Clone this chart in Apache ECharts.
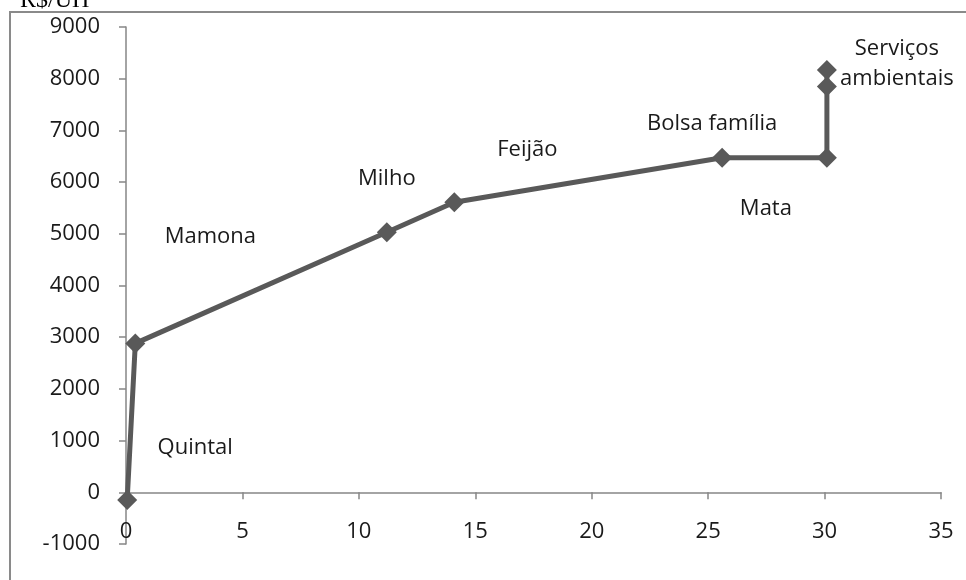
<!DOCTYPE html>
<html>
<head>
<meta charset="utf-8">
<script src="https://cdn.jsdelivr.net/npm/echarts@6/dist/echarts.min.js"></script>
<style>html,body{margin:0;padding:0;background:#fff}#c{width:966px;height:580px}</style>
</head>
<body>
<div id="c"></div>
<script>
// Data
var xValues = [0.05, 0.4, 11.2, 14.1, 25.6, 30.1, 30.1, 30.1];
var yValues = [-150, 2880, 5030, 5610, 6470, 6470, 7850, 8170];
var pointLabels = ['Quintal', 'Mamona', 'Milho', 'Feijão', 'Bolsa família', 'Mata', '', 'Serviços\nambientais'];
var xTicks = [0, 5, 10, 15, 20, 25, 30, 35];
var yTicks = [-1000, 0, 1000, 2000, 3000, 4000, 5000, 6000, 7000, 8000, 9000];
var yTitle = 'R$/UH';

// label placement (pixel offsets from each point)
var labelOffsets = [[68, -52], [75, -107], [0, -54], [73, -53], [-10, -34], [-61, 51], [0, 0], [70, -6]];

var FONT = '"Open Sans", "Noto Sans", sans-serif';
var data = xValues.map(function (x, i) {
  return {
    value: [x, yValues[i]],
    label: {
      show: pointLabels[i] !== '',
      formatter: pointLabels[i],
      position: 'inside',
      offset: labelOffsets[i],
      align: 'center',
      verticalAlign: 'middle',
      color: '#1a1a1a',
      fontSize: 22,
      lineHeight: 30,
      fontFamily: FONT
    }
  };
});

var chart = echarts.init(document.getElementById('c'), null, {renderer: 'canvas'});
chart.setOption({
  animation: false,
  backgroundColor: '#fff',
  graphic: [
    {type: 'rect', shape: {x: 10, y: 12, width: 980, height: 600}, style: {fill: 'none', stroke: '#8a8a8a', lineWidth: 2}, z: -1},
    {type: 'text', left: 20, top: -11, style: {text: yTitle, font: '24px "Liberation Serif", "DejaVu Serif", serif', fill: '#000'}}
  ],
  grid: {left: 126, right: 25, top: 27, bottom: 36, containLabel: false},
  xAxis: {
    type: 'value', min: xTicks[0], max: xTicks[xTicks.length - 1], interval: 5,
    axisLine: {show: true, onZero: true, lineStyle: {color: '#868686', width: 1.5}},
    axisTick: {show: true, length: 7, lineStyle: {color: '#868686', width: 1.5}},
    axisLabel: {color: '#1a1a1a', fontSize: 22, fontFamily: FONT, margin: -23},
    splitLine: {show: false}
  },
  yAxis: {
    type: 'value', min: yTicks[0], max: yTicks[yTicks.length - 1], interval: 1000,
    axisLine: {show: true, onZero: false, lineStyle: {color: '#868686', width: 1.5}},
    axisTick: {show: true, length: 7, lineStyle: {color: '#868686', width: 1.5}},
    axisLabel: {color: '#1a1a1a', fontSize: 22, fontFamily: FONT, margin: 26, formatter: function (v) { return String(v); }},
    splitLine: {show: false}
  },
  series: [{
    type: 'line',
    data: data,
    symbol: 'diamond',
    symbolSize: 20,
    lineStyle: {color: '#595959', width: 5},
    itemStyle: {color: '#595959'},
    z: 3
  }]
});
</script>
</body>
</html>
